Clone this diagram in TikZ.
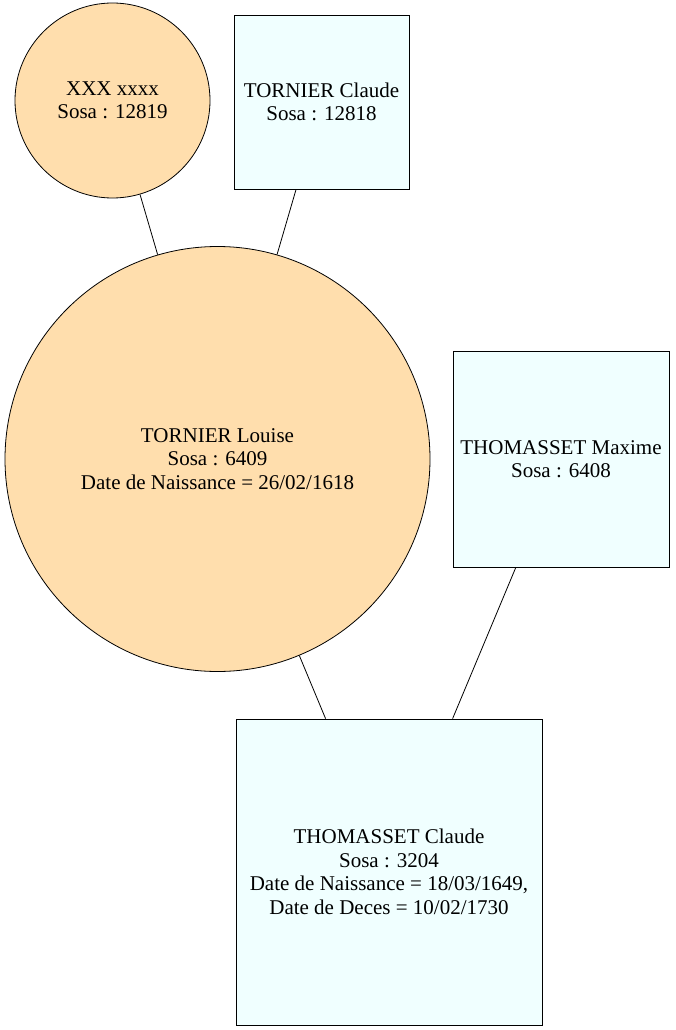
\documentclass[tikz,border=0pt]{standalone}
\usepackage{fontspec}
\setmainfont{Liberation Serif}
\definecolor{navajo}{HTML}{FFDEAD}
\definecolor{azurec}{HTML}{F0FFFF}
\begin{document}
\begin{tikzpicture}[x=1pt,y=-1pt,
  every node/.style={font=\fontsize{21}{23.5}\selectfont, align=center, draw=black, line width=0.8pt, inner sep=0pt},
  fem/.style={circle, fill=navajo},
  male/.style={rectangle, fill=azurec},
  link/.style={draw=black, line width=0.8pt}]
\useasboundingbox (0,0) rectangle (675,1030);
\node[fem, minimum size=195pt] (xxx) at (112.5,100.5) {XXX xxxx\\Sosa : 12819};
\node[male, minimum width=175pt, minimum height=174pt] (tclaude) at (321.5,102) {TORNIER Claude\\Sosa : 12818};
\node[fem, minimum size=425pt] (louise) at (217.5,459) {TORNIER Louise\\Sosa : 6409\\Date de Naissance = 26/02/1618};
\node[male, minimum width=216pt, minimum height=216pt] (maxime) at (561,459) {THOMASSET Maxime\\Sosa : 6408};
\node[male, minimum width=306pt, minimum height=306pt] (thclaude) at (389,872) {THOMASSET Claude\\Sosa : 3204\\Date de Naissance = 18/03/1649,\\Date de Deces = 10/02/1730};
\draw[link] (xxx) -- (louise);
\draw[link] (tclaude) -- (louise);
\draw[link] (louise) -- (thclaude);
\draw[link] (maxime) -- (thclaude);
\end{tikzpicture}
\end{document}
